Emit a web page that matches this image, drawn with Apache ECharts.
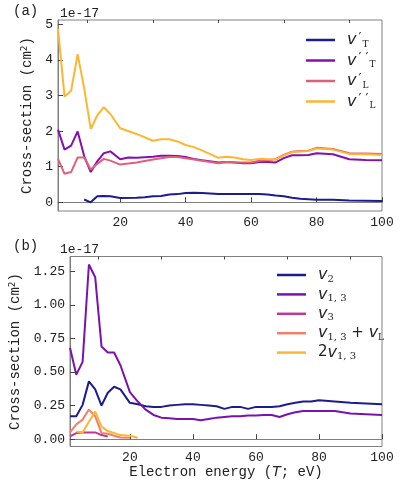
<!DOCTYPE html>
<html>
<head>
<meta charset="utf-8">
<script src="https://cdn.jsdelivr.net/npm/echarts@6/dist/echarts.min.js"></script>
<style>
  html, body { margin: 0; padding: 0; background: #fff; }
  #chart { width: 400px; height: 483px; }
</style>
</head>
<body>
<div id="chart"></div>
<script>
// panel (a): cross-sections, units of 1e-17 cm^2, x = electron energy (eV)
var vT1 = [[9,0.08],[11,0.0],[13,0.17],[15,0.18],[17,0.17],[20,0.12],[25,0.13],[27.5,0.14],[30,0.17],[32.5,0.18],[35,0.22],[37.5,0.23],[40,0.26],[42.5,0.27],[45,0.26],[50,0.23],[55,0.23],[60,0.23],[62.5,0.23],[65,0.22],[67.5,0.19],[70,0.17],[72.5,0.13],[75,0.1],[80,0.07],[85,0.07],[90,0.05],[100,0.04]];
var vT2 = [[1,2.04],[3,1.48],[5,1.59],[7,1.99],[9,1.3],[11,0.85],[13,1.15],[15,1.38],[17,1.43],[20,1.21],[22.5,1.26],[25,1.25],[30,1.28],[32.5,1.31],[35,1.31],[37.5,1.3],[40,1.27],[42.5,1.22],[45,1.18],[50,1.12],[52.5,1.13],[55,1.12],[57.5,1.1],[60,1.1],[62.5,1.13],[65,1.13],[67.5,1.12],[70,1.24],[72.5,1.32],[75,1.32],[77.5,1.33],[80,1.38],[85,1.35],[90,1.21],[95,1.19],[100,1.18]];
var vL1 = [[1,1.22],[3,0.8],[5,0.85],[7,1.26],[9,1.26],[11,0.92],[13,1.08],[15,1.22],[17,1.17],[20,1.06],[25,1.12],[30,1.2],[32.5,1.24],[35,1.27],[37.5,1.27],[40,1.24],[42.5,1.2],[45,1.17],[50,1.1],[52.5,1.13],[55,1.12],[57.5,1.12],[60,1.12],[62.5,1.17],[65,1.18],[67.5,1.21],[70,1.33],[72.5,1.42],[75,1.44],[77.5,1.45],[80,1.53],[85,1.5],[90,1.38],[95,1.37],[100,1.36]];
var vL2 = [[1,4.88],[3,2.97],[5,3.13],[7,4.16],[9,3.2],[11,2.06],[13,2.44],[15,2.67],[17,2.48],[20,2.08],[25,1.92],[30,1.73],[32.5,1.77],[35,1.77],[37.5,1.71],[40,1.61],[42.5,1.55],[45,1.46],[50,1.25],[52.5,1.28],[55,1.26],[57.5,1.21],[60,1.19],[62.5,1.22],[65,1.21],[67.5,1.2],[70,1.32],[72.5,1.41],[75,1.43],[77.5,1.44],[80,1.51],[85,1.48],[90,1.36],[95,1.35],[100,1.33]];

// panel (b)
var v2 = [[1,0.17],[3,0.17],[5,0.255],[7,0.43],[9,0.37],[11,0.25],[13,0.345],[15,0.39],[17,0.37],[20,0.27],[22.5,0.26],[25,0.245],[27.5,0.24],[30,0.24],[32.5,0.25],[35,0.255],[37.5,0.26],[40,0.26],[42.5,0.255],[45,0.25],[47.5,0.245],[50,0.225],[52.5,0.24],[55,0.24],[57.5,0.225],[60,0.24],[62.5,0.24],[65,0.24],[67.5,0.245],[70,0.26],[72.5,0.27],[75,0.28],[77.5,0.28],[80,0.29],[85,0.28],[90,0.27],[95,0.265],[100,0.26]];
var v13 = [[1,0.68],[3,0.48],[5,0.575],[7,1.3],[9,1.205],[11,0.69],[13,0.645],[15,0.645],[17,0.55],[20,0.35],[22.5,0.28],[25,0.22],[27.5,0.18],[30,0.16],[32.5,0.155],[35,0.15],[37.5,0.15],[40,0.15],[42.5,0.14],[45,0.15],[47.5,0.16],[50,0.165],[52.5,0.17],[55,0.17],[57.5,0.175],[60,0.175],[62.5,0.18],[65,0.18],[67.5,0.165],[70,0.185],[72.5,0.2],[75,0.21],[80,0.21],[85,0.21],[90,0.19],[95,0.185],[100,0.18]];
var v3 = [[1,0.02],[3,0.045],[5,0.05],[7,0.05],[9,0.05],[11,0.03],[13,0.02]];
var v13L = [[1,0.05],[3,0.11],[5,0.145],[7,0.22],[9,0.17],[11,0.045],[13,0.04],[15,0.025],[17,0.012],[20,0.01]];
var v13x2 = [[3,0.056],[5,0.05],[7,0.13],[9,0.205],[11,0.093],[13,0.06],[17,0.03],[20,0.025],[22.5,0.01]];

var xMajor = [20, 40, 60, 80, 100];
var xMinor = [10, 30, 50, 70, 90];
var yTicksA = [0, 1, 2, 3, 4, 5];
var yTicksB = [0, 0.25, 0.5, 0.75, 1.0, 1.25];

var namesA = ["v'T", "v''T", "v'L", "v''L"];
var namesB = ['v2', 'v13', 'v3', 'v13L', '2v13'];
var colorsA = ['#1c1c8e', '#8410ae', '#e0607a', '#fdb632'];
var colorsB = ['#1c1c8e', '#7a12b0', '#c0369a', '#f0806a', '#fdb632'];

var legendText = {
  "v'T": '{v|v}{p|′}{s|T}',
  "v''T": '{v|v}{p|′ ′}{s|T}',
  "v'L": '{v|v}{p|′}{s|L}',
  "v''L": '{v|v}{p|′ ′}{s|L}',
  'v2': '{v|v}{d|2}',
  'v13': '{v|v}{d|1, 3}',
  'v3': '{v|v}{d|3}',
  'v13L': '{v|v}{d|1, 3}{n| + }{v|v}{s|L}',
  '2v13': '{n|2}{v|v}{d|1, 3}'
};

var mono = 'Liberation Mono';
var frame = '#808080';
var ink = '#222';

var rich = {
  v: { fontFamily: 'DejaVu Sans', fontStyle: 'italic', fontSize: 16, lineHeight: 18, color: ink },
  n: { fontFamily: 'DejaVu Sans', fontSize: 15, lineHeight: 18, color: ink },
  p: { fontFamily: 'DejaVu Sans', fontSize: 13, lineHeight: 12, verticalAlign: 'top', color: ink, padding: [0, 1, 0, 2] },
  s: { fontFamily: 'DejaVu Serif', fontSize: 9, lineHeight: 8, verticalAlign: 'bottom', color: ink },
  d: { fontFamily: 'DejaVu Serif', fontSize: 10, lineHeight: 8, verticalAlign: 'bottom', color: ink }
};

function xAxes(grid) {
  return [{
    type: 'value', gridIndex: grid, min: 1, max: 100,
    axisLine: { lineStyle: { color: frame, width: 1 } },
    splitLine: { show: false },
    axisTick: { inside: true, length: 5, customValues: xMajor, lineStyle: { color: '#444' } },
    axisLabel: { customValues: xMajor, color: ink, fontFamily: mono, fontSize: 13, margin: 5 },
    name: grid === 1 ? 'Electron energy ({i|T}; eV)' : '',
    nameLocation: 'middle', nameGap: 18,
    nameTextStyle: { fontFamily: mono, fontSize: 14, color: ink,
      rich: { i: { fontFamily: 'DejaVu Sans', fontStyle: 'italic', fontSize: 14, color: ink } } }
  }, {
    type: 'value', gridIndex: grid, min: 1, max: 100,
    axisLine: { show: false }, splitLine: { show: false }, axisLabel: { show: false },
    axisTick: { inside: true, length: 3, customValues: xMinor, lineStyle: { color: '#444' } }
  }];
}

function yAxis(grid, min, max, ticks, fmt, gap) {
  return {
    type: 'value', gridIndex: grid, min: min, max: max,
    axisLine: { show: true, lineStyle: { color: frame, width: 1 } },
    splitLine: { show: false },
    axisTick: { show: true, inside: true, length: 5, customValues: ticks, lineStyle: { color: '#444' } },
    axisLabel: { customValues: ticks, color: ink, fontFamily: mono, fontSize: 13, margin: 5, formatter: fmt },
    name: 'Cross-section (cm{sup|2})', nameLocation: 'middle', nameGap: gap, nameRotate: 90,
    nameTextStyle: { fontFamily: mono, fontSize: 14, color: ink,
      rich: { sup: { fontFamily: 'DejaVu Sans', fontSize: 9, verticalAlign: 'top', lineHeight: 9, color: ink } } }
  };
}

function lines(names, datas, colors, xi, yi) {
  return names.map(function (n, i) {
    return {
      type: 'line', name: n, data: datas[i], xAxisIndex: xi, yAxisIndex: yi,
      showSymbol: false, symbol: 'none', color: colors[i],
      lineStyle: { width: 2, color: colors[i] }
    };
  });
}

function legend(names, left, top, gap) {
  return {
    data: names, orient: 'vertical', left: left, top: top,
    icon: 'rect', itemWidth: 29, itemHeight: 2.5, itemGap: gap,
    formatter: function (n) { return legendText[n]; },
    textStyle: { color: ink, padding: [0, 0, 0, 7], rich: rich }
  };
}

var chart = echarts.init(document.getElementById('chart'), null, { renderer: 'canvas' });
var xa = xAxes(0), xb = xAxes(1);
chart.setOption({
  animation: false,
  backgroundColor: '#fff',
  grid: [
    { left: 58, top: 20, width: 324, height: 191, show: true, borderColor: frame, borderWidth: 1, backgroundColor: 'transparent' },
    { left: 58, top: 256.5, width: 324, height: 190, show: true, borderColor: frame, borderWidth: 1, backgroundColor: 'transparent' }
  ],
  xAxis: [xa[0], xa[1], xb[0], xb[1]],
  yAxis: [
    yAxis(0, -0.244, 5.12, yTicksA, function (v) { return String(v); }, 14),
    yAxis(1, -0.055, 1.36, yTicksB, function (v) { return v.toFixed(2); }, 48)
  ],
  legend: [
    legend(namesA, 301, 26, 2.5),
    legend(namesB, 272, 262, 2.4)
  ],
  graphic: [
    { type: 'text', left: 13, top: 4, style: { text: '(a)', font: '14px "Liberation Mono"', fill: ink } },
    { type: 'text', left: 60, top: 7, style: { text: '1e-17', font: '13px "Liberation Mono"', fill: ink } },
    { type: 'text', left: 13, top: 239, style: { text: '(b)', font: '14px "Liberation Mono"', fill: ink } },
    { type: 'text', left: 60, top: 243, style: { text: '1e-17', font: '13px "Liberation Mono"', fill: ink } }
  ],
  series: lines(namesA, [vT1, vT2, vL1, vL2], colorsA, 0, 0)
    .concat(lines(namesB, [v2, v13, v3, v13L, v13x2], colorsB, 2, 1))
});
</script>
</body>
</html>
